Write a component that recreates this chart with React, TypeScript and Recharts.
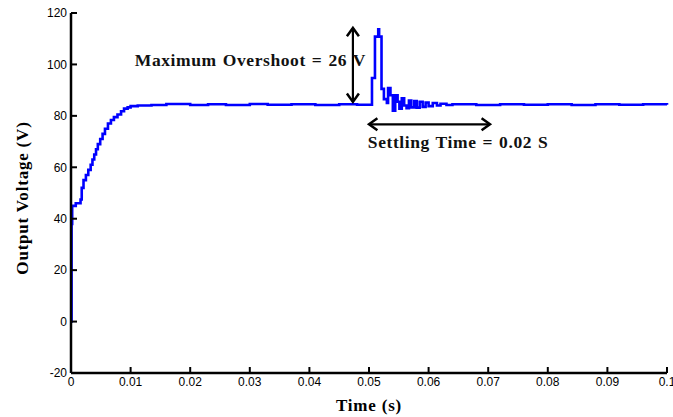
import React from 'react';
import {
  LineChart,
  Line,
  XAxis,
  YAxis,
  ReferenceLine,
  ReferenceDot,
} from 'recharts';

// time (s) and output voltage (V), held as steps
const riseT = [0, 0.0001, 0.0002, 0.0008, 0.0016, 0.0018, 0.0021, 0.0025, 0.0029, 0.0033, 0.0036, 0.0039, 0.0042, 0.0045, 0.0049, 0.0053, 0.0057, 0.0062, 0.0067, 0.0072, 0.0078, 0.0084, 0.0089, 0.0095, 0.01, 0.0112];
const riseV = [0, 38, 45, 46, 47.5, 52, 55, 57, 59, 61, 63, 65, 67, 69, 71, 73, 75, 77, 78.4, 79.5, 80.5, 81.8, 82.8, 83.3, 83.8, 84];

const flatT = [0.0135, 0.016, 0.02, 0.023, 0.026, 0.03, 0.033, 0.037, 0.041, 0.045, 0.048];
const flatV = [84.2, 84.6, 84.2, 84.5, 84.2, 84.6, 84.3, 84.5, 84.2, 84.5, 84.3];

const spikeT = [0.0505, 0.051, 0.05155, 0.0517, 0.0521, 0.0525, 0.053, 0.0532, 0.0536, 0.054, 0.0544, 0.0548, 0.0551, 0.0555, 0.0559, 0.0563, 0.0567, 0.0571, 0.0576, 0.058, 0.0585, 0.059, 0.0595, 0.06, 0.0607, 0.0614, 0.062, 0.063];
const spikeV = [94.7, 110.8, 113.7, 110.8, 90.5, 86.5, 85, 90.8, 88, 82, 88, 85.5, 82.8, 86.8, 84, 83, 86, 83.3, 85.8, 83.2, 85.5, 83.5, 85.2, 83.8, 85, 84, 84.7, 84.2];

const tailT = [0.064, 0.068, 0.072, 0.076, 0.08, 0.084, 0.088, 0.092, 0.096, 0.1];
const tailV = [84.5, 84.2, 84.5, 84.3, 84.5, 84.2, 84.5, 84.3, 84.5, 84.3];

const xTicks = [0, 0.01, 0.02, 0.03, 0.04, 0.05, 0.06, 0.07, 0.08, 0.09, 0.1];
const yTicks = [-20, 0, 20, 40, 60, 80, 100, 120];

const allT = [...riseT, ...flatT, ...spikeT, ...tailT];
const allV = [...riseV, ...flatV, ...spikeV, ...tailV];
const data = allT.map((t, i) => ({ t, v: allV[i] }));

const serif = '"Liberation Serif", "Times New Roman", serif';
const sans = '"Liberation Sans", Arial, sans-serif';

function ArrowShape(props: any) {
  const { x1, y1, x2, y2 } = props;
  const vertical = Math.abs(x1 - x2) < 1;
  const h = 6;
  const heads = vertical
    ? [
        `${x1 - h},${Math.min(y1, y2) + h * 1.4} ${x1},${Math.min(y1, y2)} ${x1 + h},${Math.min(y1, y2) + h * 1.4}`,
        `${x1 - h},${Math.max(y1, y2) - h * 1.4} ${x1},${Math.max(y1, y2)} ${x1 + h},${Math.max(y1, y2) - h * 1.4}`,
      ]
    : [
        `${Math.min(x1, x2) + h * 1.4},${y1 - h} ${Math.min(x1, x2)},${y1} ${Math.min(x1, x2) + h * 1.4},${y1 + h}`,
        `${Math.max(x1, x2) - h * 1.4},${y1 - h} ${Math.max(x1, x2)},${y1} ${Math.max(x1, x2) - h * 1.4},${y1 + h}`,
      ];
  return (
    <g>
      <line x1={x1} y1={y1} x2={x2} y2={y2} stroke="#000" strokeWidth={2.2} />
      {heads.map((p, i) => (
        <polyline key={i} points={p} fill="none" stroke="#000" strokeWidth={2.5} />
      ))}
    </g>
  );
}

function Note(text: string) {
  return (props: any) => (
    <text x={props.cx} y={props.cy} fontFamily={serif} fontWeight="bold" fontSize={17.5} letterSpacing={0.6} wordSpacing={1} fill="#111">
      {text}
    </text>
  );
}

function XTitle(props: any) {
  const { viewBox } = props;
  return (
    <text x={viewBox.x + viewBox.width / 2} y={viewBox.y + 38} textAnchor="middle" fontFamily={serif} fontWeight="bold" fontSize={17} letterSpacing={0.8} fill="#000">
      Time (s)
    </text>
  );
}

function YTitle(props: any) {
  const { viewBox } = props;
  const cx = viewBox.x + 22;
  const cy = viewBox.y + viewBox.height / 2 + 5;
  return (
    <text x={cx} y={cy} transform={`rotate(-90 ${cx} ${cy})`} textAnchor="middle" dominantBaseline="central" fontFamily={serif} fontWeight="bold" fontSize={17} letterSpacing={0.8} fill="#000">
      Output Voltage (V)
    </text>
  );
}

export default function App() {
  const tick = { fontSize: 12, fill: '#000', fontFamily: sans };
  return (
    <div style={{ position: 'absolute', left: 0, top: 0, width: 673, height: 417, background: '#fff' }}>
      <LineChart width={673} height={417} data={data} margin={{ top: 13, right: 6, bottom: 0, left: 0 }}>
        <XAxis
          dataKey="t"
          type="number"
          domain={[0, 0.1]}
          ticks={xTicks}
          interval={0}
          height={44}
          tickSize={-6}
          tickMargin={10}
          tick={tick}
          tickFormatter={(v) => String(v)}
          axisLine={{ stroke: '#000', strokeWidth: 2.5 }}
          tickLine={{ stroke: '#000', strokeWidth: 2 }}
          label={{ content: XTitle }}
        />
        <YAxis
          type="number"
          domain={[-20, 120]}
          ticks={yTicks}
          interval={0}
          width={71}
          tickSize={-6}
          tickMargin={10}
          tick={tick}
          axisLine={{ stroke: '#000', strokeWidth: 2.5 }}
          tickLine={{ stroke: '#000', strokeWidth: 2 }}
          label={{ content: YTitle }}
        />
        <Line
          type="stepAfter"
          dataKey="v"
          stroke="#0000ff"
          strokeWidth={2.6}
          dot={false}
          isAnimationActive={false}
        />
        <ReferenceLine segment={[{ x: 0.0473, y: 114.2 }, { x: 0.0473, y: 85.4 }]} shape={ArrowShape} />
        <ReferenceLine segment={[{ x: 0.05, y: 76.7 }, { x: 0.0703, y: 76.7 }]} shape={ArrowShape} />
        <ReferenceDot x={0.0107} y={99.4} r={0} shape={Note('Maximum Overshoot = 26 V')} />
        <ReferenceDot x={0.0498} y={67.5} r={0} shape={Note('Settling Time = 0.02 S')} />
      </LineChart>
    </div>
  );
}
